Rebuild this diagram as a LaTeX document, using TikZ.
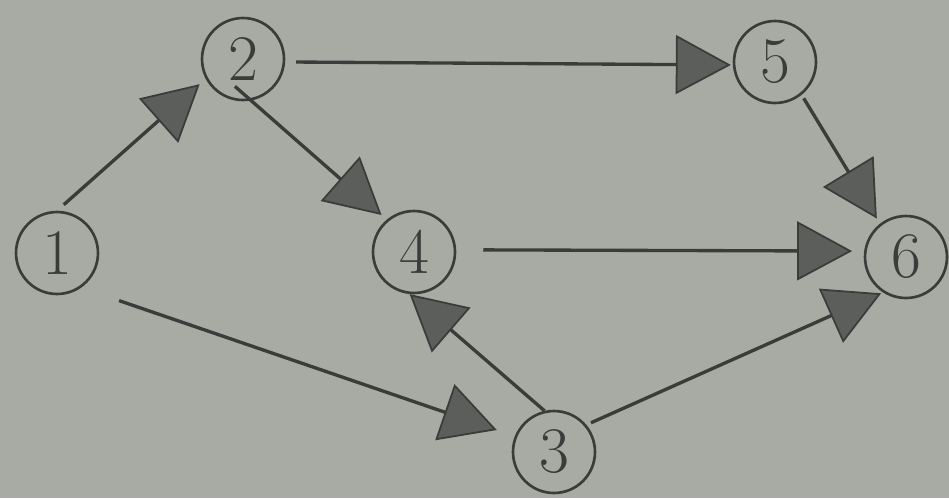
\documentclass[tikz,border=0pt]{standalone}
\usetikzlibrary{arrows.meta}
\definecolor{bg}{RGB}{168,171,164}
\definecolor{ink}{RGB}{58,60,58}
\definecolor{head}{RGB}{92,94,92}
\begin{document}
\begin{tikzpicture}[x=0.02cm,y=-0.02cm,
  vtx/.style={circle,draw=ink,line width=1.5pt,minimum size=1.64cm,inner sep=0pt,
    text=ink,font=\fontsize{37}{37}\selectfont},
  edge/.style={draw=ink,line width=1.9pt,
    -{Triangle[length=1.1cm,width=1.18cm,fill=head,line width=1pt]}}]
\fill[bg] (0,0) rectangle (949,498);
\useasboundingbox (0,0) rectangle (949,498);
\node[vtx] (n1) at (57,253) {1};
\node[vtx] (n2) at (243,59) {2};
\node[vtx] (n3) at (554,452) {3};
\node[vtx] (n4) at (414,252) {4};
\node[vtx] (n5) at (775,62) {5};
\node[vtx] (n6) at (906,257) {6};
\draw[edge,shorten <=0.18cm,shorten >=0.16cm] (n1.90) -- (n2.208);
\draw[edge,shorten <=0.22cm,shorten >=0.04cm] (n2.-4) -- (n5.184);
\draw[edge,shorten <=-0.43cm,shorten >=0.14cm] (n2.281) -- (n4.130);
\draw[edge,shorten <=0.08cm,shorten >=0.12cm] (n5.309) -- (n6.128);
\draw[edge,shorten <=0.54cm,shorten >=0.24cm] (n4.3) -- (n6.172);
\draw[edge,shorten <=0.8cm,shorten >=0.38cm] (n1.305) -- (n3.158);
\draw[edge] (n3.103) -- (n4.264);
\draw[edge,shorten <=0.1cm,shorten >=0.04cm] (n3.40) -- (n6.237);
\end{tikzpicture}
\end{document}
